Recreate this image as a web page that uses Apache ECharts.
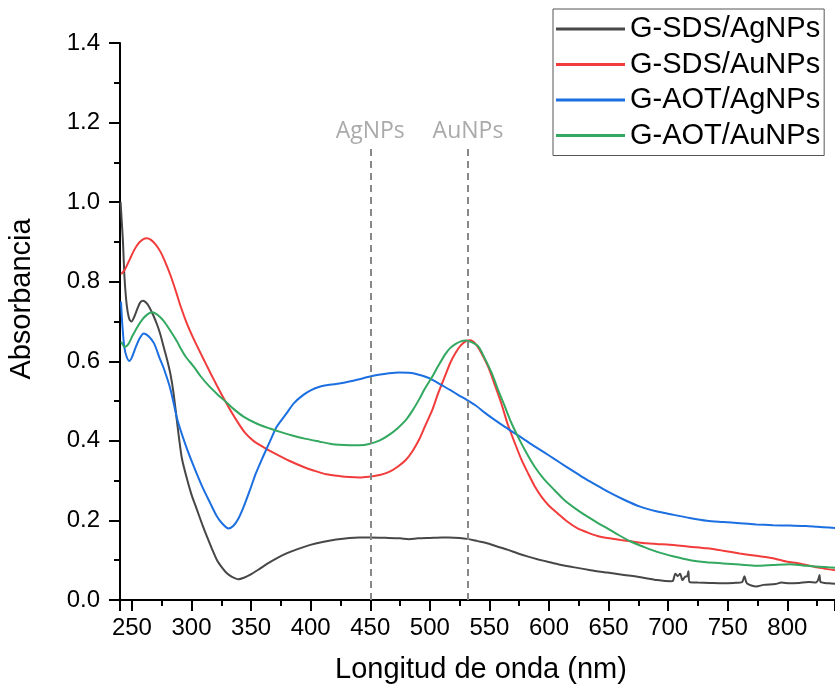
<!DOCTYPE html>
<html><head><meta charset="utf-8">
<script src="https://cdn.jsdelivr.net/npm/echarts@6/dist/echarts.min.js"></script>
<style>html,body{margin:0;padding:0;background:#fff}#c{width:835px;height:687px}</style>
</head><body><div id="c"></div>
<script>
const seriesNames = ['G-SDS/AgNPs', 'G-SDS/AuNPs', 'G-AOT/AgNPs', 'G-AOT/AuNPs'];
const seriesColors = ['#474747', '#f23c3c', '#1b6fe0', '#33a860'];
const xTitle = 'Longitud de onda (nm)';
const yTitle = 'Absorbancia';
const refLines = [{ name: 'AgNPs', x: 450 }, { name: 'AuNPs', x: 532 }];
const refTop = 1.145;

// [wavelength nm, absorbance]
const sdsAg = [[240.5,1.00],[241.5,0.95],[242.5,0.90],[243.6,0.82],[245,0.76],[246.4,0.725],[248,0.705],[249.7,0.70],[252,0.712],[254.7,0.733],[257,0.748],[259.4,0.752],[262,0.747],[264.4,0.737],[268,0.715],[271.4,0.690],[274,0.666],[277,0.632],[280,0.598],[282.5,0.565],[284.7,0.525],[286.7,0.477],[289.4,0.410],[292,0.355],[296.4,0.302],[300,0.265],[304.7,0.226],[309,0.19],[313,0.159],[317,0.13],[321.4,0.100],[325.5,0.082],[329.7,0.067],[334,0.058],[339.4,0.052],[344,0.056],[349,0.063],[356,0.076],[363,0.090],[371,0.104],[379.7,0.117],[389,0.128],[399,0.138],[410,0.146],[421.4,0.152],[432.5,0.156],[440.8,0.157],[449,0.157],[465,0.156],[475,0.155],[482.5,0.153],[490,0.155],[500,0.156],[510,0.157],[515.8,0.157],[525,0.156],[532.5,0.153],[540,0.148],[549,0.142],[557,0.134],[565.8,0.126],[574,0.117],[582.5,0.109],[591,0.102],[599,0.096],[607.5,0.090],[621.4,0.082],[635,0.075],[649,0.069],[663,0.063],[677,0.057],[690.8,0.050],[702,0.047],[704,0.048],[706,0.066],[708,0.060],[710,0.066],[712,0.050],[714,0.058],[716,0.060],[717,0.072],[718,0.045],[725,0.044],[735,0.043],[746,0.042],[755,0.043],[762,0.045],[764,0.060],[766,0.042],[774,0.034],[780,0.038],[790,0.040],[795,0.044],[802,0.042],[810,0.043],[818,0.045],[824,0.044],[826,0.052],[827,0.063],[828,0.045],[835,0.042],[840,0.041]];
const sdsAu = [[241,0.819],[244,0.830],[248,0.855],[252,0.880],[256,0.898],[259,0.906],[262.5,0.909],[266,0.905],[270,0.893],[274,0.875],[277,0.856],[282.5,0.815],[287,0.775],[291,0.737],[296,0.696],[302,0.655],[309,0.612],[316,0.570],[321.5,0.538],[327,0.507],[333,0.475],[339.4,0.444],[345,0.420],[352,0.400],[361,0.383],[371.4,0.366],[382,0.350],[393.6,0.335],[403,0.325],[413,0.316],[425,0.311],[432.5,0.309],[440.8,0.308],[449,0.310],[458,0.314],[465.8,0.322],[473,0.335],[479.8,0.352],[485,0.372],[490.8,0.402],[496,0.437],[502,0.477],[507,0.520],[513,0.565],[517,0.595],[521.4,0.620],[526,0.640],[531,0.652],[534,0.653],[538,0.645],[543,0.622],[549,0.586],[554,0.545],[560,0.494],[565,0.445],[571.4,0.394],[577,0.352],[582.5,0.318],[588,0.286],[593.6,0.260],[600,0.237],[607.5,0.217],[615,0.198],[624,0.180],[632,0.170],[640.8,0.161],[649,0.156],[660,0.151],[670,0.147],[677,0.144],[690,0.141],[704.7,0.138],[718,0.134],[732.5,0.130],[746,0.124],[760,0.117],[774,0.111],[788,0.105],[800,0.096],[808,0.093],[815.8,0.088],[825,0.082],[835,0.077],[840,0.075]];
const aotAg = [[240.8,0.750],[242,0.690],[243.6,0.636],[245.5,0.612],[247.8,0.601],[250,0.610],[253.3,0.636],[256.5,0.658],[260,0.670],[264,0.663],[268.6,0.645],[273,0.610],[277,0.580],[282.5,0.528],[288,0.455],[295,0.390],[302,0.335],[309,0.285],[315.8,0.243],[321,0.212],[325.6,0.193],[331,0.180],[335,0.186],[339.4,0.205],[344,0.236],[349,0.276],[354,0.318],[360,0.360],[366,0.400],[371.4,0.435],[379.7,0.469],[386,0.495],[393.6,0.515],[400,0.527],[407.5,0.536],[416,0.541],[424,0.544],[432.5,0.549],[440.8,0.555],[449,0.561],[457,0.566],[465.8,0.570],[474,0.572],[482.5,0.571],[490,0.567],[496.4,0.561],[503,0.552],[510,0.540],[517,0.528],[524,0.515],[531,0.503],[538,0.490],[546,0.471],[554.7,0.452],[563,0.435],[571.4,0.419],[580,0.402],[588,0.386],[596,0.371],[604.7,0.354],[614,0.336],[624,0.317],[632,0.302],[640.8,0.287],[649,0.273],[663,0.252],[677,0.234],[690,0.223],[704.7,0.214],[718,0.206],[732.5,0.199],[746,0.196],[760,0.193],[774,0.190],[788,0.188],[802,0.187],[815.8,0.186],[825,0.184],[835,0.182],[840,0.181]];
const aotAu = [[241,0.649],[244,0.636],[247,0.643],[250.5,0.664],[254.7,0.687],[259,0.706],[263,0.718],[267,0.723],[271,0.718],[274,0.710],[277,0.700],[282,0.678],[288,0.649],[291,0.632],[295,0.612],[302,0.586],[307.5,0.563],[314,0.540],[321.4,0.518],[327,0.503],[335,0.481],[343.6,0.461],[355,0.443],[365.8,0.431],[375,0.422],[385.3,0.413],[396,0.405],[407.5,0.398],[416,0.393],[424,0.390],[432.5,0.389],[440.8,0.389],[449,0.392],[458,0.401],[465.8,0.415],[473,0.432],[479.8,0.452],[485,0.474],[490.8,0.503],[496,0.532],[502,0.561],[507,0.588],[513,0.618],[517,0.633],[521.4,0.643],[526,0.650],[530,0.652],[535,0.648],[540.8,0.637],[546,0.608],[552,0.570],[557,0.530],[563,0.486],[568,0.448],[574,0.410],[581,0.370],[588,0.335],[596,0.303],[604.7,0.276],[613,0.251],[624,0.226],[632,0.210],[640.8,0.194],[649,0.180],[658,0.164],[668.6,0.147],[680,0.133],[690.8,0.121],[704,0.110],[718.6,0.100],[732,0.095],[746,0.092],[760,0.089],[774,0.086],[788,0.088],[802,0.090],[813,0.087],[824,0.084],[835,0.082],[840,0.081]];
const seriesData = [sdsAg, sdsAu, aotAg, aotAu];

const FONT = 'Liberation Sans, Arial, sans-serif';
const chart = echarts.init(document.getElementById('c'), null, { renderer: 'canvas' });

const axisCommon = {
  axisLine: { show: true, onZero: false, lineStyle: { color: '#000', width: 2 } },
  axisTick: { show: true, inside: false, length: 11, lineStyle: { color: '#000', width: 2 } },
  minorTick: { show: true, splitNumber: 2, length: 6, lineStyle: { color: '#000', width: 2 } },
  splitLine: { show: false },
  minorSplitLine: { show: false }
};

const series = seriesNames.map((n, i) => ({
  name: n, type: 'line', data: seriesData[i], symbol: 'none', showSymbol: false,
  smooth: 0.25, clip: true,
  lineStyle: { color: seriesColors[i], width: 2 }, itemStyle: { color: seriesColors[i] },
  z: 3
}));
series.push({
  name: 'ref', type: 'line', data: [], symbol: 'none', z: 2,
  markLine: {
    silent: true, symbol: ['none', 'none'], animation: false,
    lineStyle: { type: [7, 5], color: '#888888', width: 2 },
    label: { show: true, position: 'end', formatter: '{b}', color: '#aaaaaa',
      fontFamily: 'Open Sans, sans-serif', fontSize: 23, distance: 2 },
    data: refLines.map(r => [{ name: r.name, xAxis: r.x, yAxis: 0 }, { xAxis: r.x, yAxis: refTop }])
  }
});

chart.setOption({
  animation: false,
  backgroundColor: '#fff',
  textStyle: { fontFamily: FONT },
  grid: { left: 120, top: 43, bottom: 87, right: -6, containLabel: false },
  xAxis: Object.assign({
    type: 'value', min: 240, max: 840, splitNumber: 12,
    axisLabel: { color: '#000', fontSize: 24, fontFamily: FONT, margin: 16, showMinLabel: false, showMaxLabel: false }
  }, axisCommon),
  yAxis: Object.assign({
    type: 'value', min: 0, max: 1.4, interval: 0.2,
    axisLabel: { color: '#000', fontSize: 24, fontFamily: FONT, margin: 20, formatter: v => v.toFixed(1) }
  }, axisCommon),
  legend: {
    data: seriesNames.map((n, i) => ({ name: n, icon: 'rect', itemStyle: { color: seriesColors[i] } })),
    orient: 'vertical', left: 553, top: 9,
    itemWidth: 69, itemHeight: 3, itemGap: 4.5,
    padding: [4.5, 4, 4.5, 3],
    borderColor: '#555', borderWidth: 1, backgroundColor: '#fff',
    textStyle: { color: '#000', fontSize: 29, lineHeight: 31, fontFamily: FONT }
  },
  graphic: [
    { type: 'text', x: 22, y: 299, rotation: Math.PI / 2,
      style: { text: yTitle, font: '29px ' + FONT, fill: '#000', align: 'center', verticalAlign: 'middle' } },
    { type: 'text', x: 481, y: 670,
      style: { text: xTitle, font: '29px ' + FONT, fill: '#000', align: 'center', verticalAlign: 'middle' } }
  ],
  series: series
});
</script>
</body></html>
